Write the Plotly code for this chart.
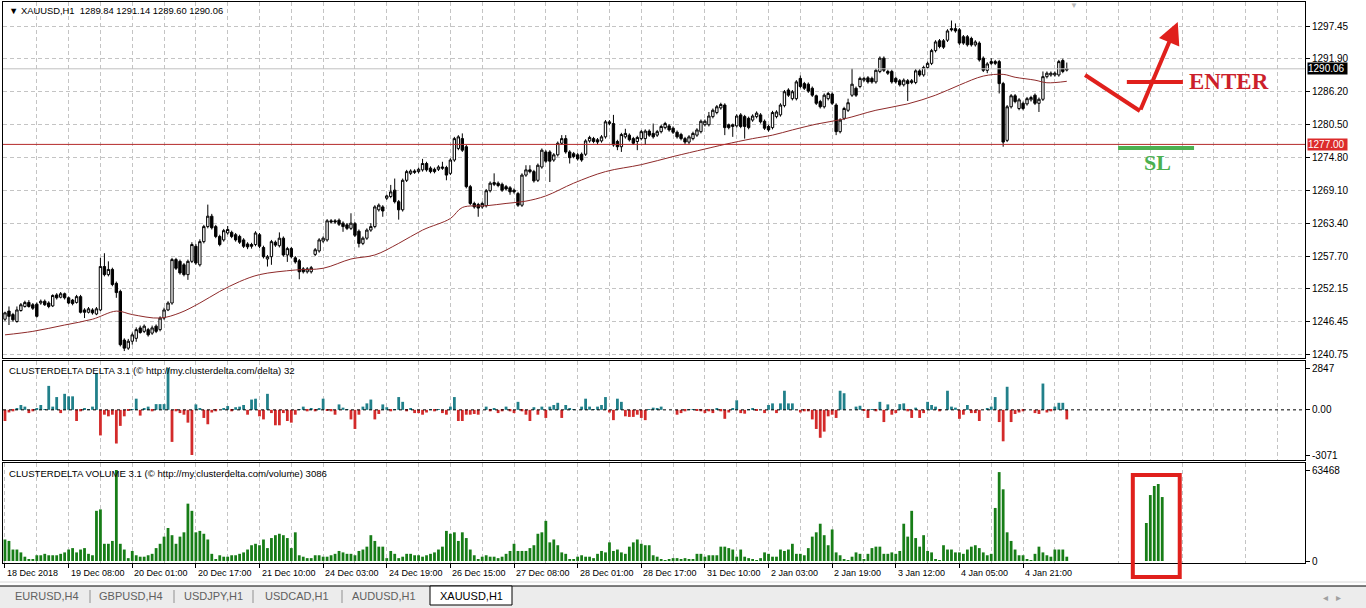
import plotly.graph_objects as go
from plotly.subplots import make_subplots

# header / panel captions
chart_title = "▼ XAUUSD,H1&nbsp;&nbsp;1289.84 1291.14 1289.60 1290.06"
delta_title = "CLUSTERDELTA DELTA 3.1 (© http://my.clusterdelta.com/delta) 32"
volume_title = "CLUSTERDELTA VOLUME 3.1 (© http://my.clusterdelta.com/volume) 3086"

# H1 candles (bar 0 = 18 Dec 2018)
opens = [
    1246.8, 1248.2, 1247.6, 1246.4, 1248.3, 1249.0, 1249.7, 1249.3, 1249.4, 1249.6,
    1249.9, 1249.6, 1249.1, 1251.0, 1250.6, 1251.2, 1250.5, 1250.1, 1249.7, 1250.7,
    1248.4, 1248.0, 1248.4, 1247.7, 1248.4, 1255.9, 1254.5, 1255.4, 1253.0, 1251.6,
    1243.2, 1241.8, 1243.0, 1243.5, 1245.3, 1244.7, 1245.0, 1244.4, 1245.6, 1245.0,
    1247.0, 1248.4, 1249.6, 1257.1, 1256.8, 1256.2, 1254.5, 1256.8, 1259.4, 1256.2,
    1260.2, 1262.8, 1264.6, 1262.8, 1261.1, 1260.5, 1261.7, 1261.8, 1261.4, 1261.1,
    1260.5, 1259.8, 1259.7, 1259.7, 1261.4, 1259.2, 1257.2, 1257.6, 1260.1, 1259.5,
    1260.8, 1257.9, 1259.0, 1257.4, 1256.9, 1255.5, 1255.0, 1255.0, 1258.0, 1258.6,
    1260.3, 1260.5, 1263.8, 1263.8, 1263.9, 1263.4, 1263.1, 1262.5, 1263.3, 1262.0,
    1259.9, 1260.8, 1262.2, 1262.8, 1265.7, 1266.2, 1267.7, 1268.0, 1269.1, 1267.1,
    1265.7, 1270.8, 1272.0, 1272.4, 1272.3, 1272.6, 1273.7, 1272.9, 1272.7, 1272.7,
    1273.1, 1273.0, 1272.0, 1274.3, 1276.3, 1278.0, 1276.6, 1269.7, 1266.8, 1266.6,
    1266.2, 1266.4, 1269.0, 1270.4, 1270.3, 1270.1, 1269.7, 1269.5, 1269.1, 1268.5,
    1266.5, 1271.7, 1272.6, 1272.3, 1270.8, 1273.1, 1275.7, 1275.7, 1274.3, 1275.2,
    1277.2, 1278.0, 1275.7, 1275.4, 1275.2, 1275.3, 1275.3, 1277.6, 1278.0, 1277.8,
    1277.6, 1278.3, 1280.6, 1280.6, 1277.5, 1276.6, 1278.3, 1278.6, 1278.0, 1277.5,
    1278.0, 1278.0, 1279.3, 1278.9, 1278.6, 1279.2, 1279.9, 1280.2, 1279.8, 1279.1,
    1278.7, 1278.0, 1277.4, 1278.0, 1278.6, 1279.2, 1280.4, 1280.4, 1281.8, 1282.5,
    1283.3, 1283.8, 1280.4, 1280.1, 1280.2, 1282.1, 1281.8, 1281.5, 1281.2, 1281.8,
    1282.1, 1281.0, 1280.1, 1279.9, 1281.8, 1282.1, 1283.7, 1286.4, 1284.9, 1284.9,
    1288.4, 1287.5, 1287.4, 1286.7, 1285.4, 1284.4, 1283.5, 1284.9, 1285.7, 1283.8,
    1279.2, 1281.5, 1282.9, 1285.5, 1286.7, 1287.0, 1288.1, 1288.5, 1288.4, 1287.8,
    1289.6, 1291.9, 1289.6, 1289.6, 1288.4, 1288.0, 1287.3, 1288.0, 1287.7, 1287.7,
    1289.7, 1289.0, 1290.3, 1291.0, 1293.2, 1294.9, 1294.9, 1295.0, 1297.0, 1297.0,
    1296.8, 1295.6, 1295.6, 1295.3, 1294.2, 1294.5, 1291.9, 1289.8, 1291.3, 1291.3,
    1291.3, 1287.5, 1277.7, 1283.5, 1285.4, 1283.2, 1284.1, 1284.0, 1284.7, 1285.5,
    1284.1, 1284.8, 1288.7, 1289.0, 1289.0, 1289.0, 1291.5, 1289.84,
]
highs = [
    1248.1, 1249.0, 1247.9, 1249.0, 1249.6, 1250.0, 1250.1, 1249.6, 1249.7, 1250.2,
    1250.2, 1249.9, 1251.1, 1251.3, 1251.5, 1251.4, 1250.7, 1250.3, 1251.0, 1251.0,
    1248.7, 1248.9, 1248.7, 1248.9, 1257.4, 1258.2, 1256.8, 1255.7, 1253.3, 1251.9,
    1243.5, 1243.4, 1244.5, 1245.4, 1245.7, 1245.9, 1245.3, 1245.7, 1245.9, 1247.3,
    1248.8, 1249.9, 1257.4, 1257.4, 1257.1, 1256.5, 1257.1, 1260.1, 1259.8, 1260.6,
    1263.1, 1266.6, 1265.0, 1263.1, 1261.4, 1262.4, 1262.9, 1262.1, 1261.7, 1261.4,
    1260.8, 1260.1, 1260.0, 1262.0, 1261.7, 1259.5, 1257.9, 1260.5, 1260.4, 1261.8,
    1261.1, 1259.3, 1259.3, 1257.7, 1257.2, 1255.8, 1255.8, 1256.0, 1259.1, 1260.8,
    1261.1, 1264.1, 1264.1, 1264.1, 1264.2, 1263.7, 1263.4, 1265.1, 1263.6, 1262.3,
    1261.1, 1262.5, 1263.4, 1266.5, 1266.8, 1266.5, 1268.3, 1270.0, 1271.1, 1267.4,
    1271.1, 1272.6, 1272.7, 1272.7, 1273.0, 1274.5, 1274.0, 1273.2, 1273.0, 1273.4,
    1274.0, 1273.3, 1274.6, 1278.3, 1278.6, 1278.9, 1276.9, 1270.0, 1267.1, 1266.9,
    1267.1, 1269.3, 1270.6, 1272.0, 1270.6, 1270.4, 1270.0, 1269.8, 1269.4, 1268.8,
    1272.0, 1273.4, 1273.4, 1272.6, 1273.7, 1276.3, 1276.0, 1276.0, 1275.5, 1277.5,
    1278.6, 1278.6, 1276.0, 1275.7, 1275.5, 1275.6, 1277.9, 1278.5, 1278.3, 1278.1,
    1278.6, 1281.2, 1281.2, 1282.1, 1277.8, 1279.0, 1279.7, 1278.9, 1278.3, 1278.5,
    1279.5, 1279.6, 1279.6, 1280.6, 1279.5, 1280.4, 1280.9, 1280.5, 1280.1, 1279.4,
    1279.0, 1278.3, 1278.6, 1279.2, 1279.8, 1281.3, 1281.3, 1282.6, 1283.2, 1283.8,
    1284.2, 1284.1, 1280.6, 1280.6, 1282.2, 1282.4, 1282.1, 1281.8, 1282.2, 1282.7,
    1282.4, 1281.3, 1280.4, 1282.8, 1282.9, 1284.1, 1286.4, 1286.7, 1286.4, 1288.1,
    1288.9, 1287.8, 1287.7, 1287.0, 1285.6, 1284.7, 1285.8, 1286.1, 1286.0, 1284.1,
    1281.5, 1283.5, 1284.9, 1290.1, 1287.0, 1288.7, 1288.7, 1288.8, 1288.7, 1290.1,
    1292.2, 1292.2, 1289.9, 1289.9, 1288.7, 1288.3, 1288.4, 1288.3, 1288.3, 1290.0,
    1290.0, 1290.6, 1291.3, 1293.5, 1295.0, 1295.2, 1295.2, 1296.9, 1298.4, 1297.9,
    1297.1, 1295.9, 1295.9, 1295.6, 1295.0, 1294.8, 1292.2, 1291.2, 1291.9, 1291.6,
    1291.6, 1287.8, 1283.8, 1285.7, 1285.7, 1285.0, 1284.4, 1285.2, 1285.4, 1285.8,
    1285.1, 1289.6, 1289.6, 1289.6, 1289.6, 1291.6, 1291.8, 1291.14,
]
lows = [
    1246.5, 1245.8, 1246.4, 1246.2, 1248.1, 1248.8, 1248.8, 1248.4, 1247.1, 1249.3,
    1249.1, 1248.7, 1248.9, 1250.2, 1250.4, 1250.2, 1249.4, 1249.2, 1249.5, 1247.8,
    1247.0, 1247.8, 1247.6, 1247.5, 1248.2, 1254.2, 1254.2, 1252.5, 1250.5, 1242.1,
    1241.3, 1241.5, 1242.4, 1242.9, 1244.3, 1244.4, 1243.8, 1244.1, 1244.4, 1244.7,
    1246.7, 1248.2, 1249.3, 1255.3, 1254.5, 1254.2, 1253.6, 1256.5, 1256.2, 1255.9,
    1259.9, 1262.5, 1262.3, 1260.8, 1259.4, 1260.2, 1261.4, 1260.8, 1260.2, 1259.8,
    1259.1, 1258.9, 1259.0, 1259.4, 1259.1, 1257.3, 1255.9, 1256.2, 1259.3, 1259.2,
    1257.6, 1256.7, 1257.3, 1256.4, 1253.7, 1254.7, 1254.7, 1254.7, 1257.7, 1258.3,
    1260.0, 1260.2, 1263.3, 1263.3, 1262.9, 1261.9, 1262.2, 1262.2, 1261.0, 1259.2,
    1259.6, 1260.5, 1261.9, 1262.5, 1265.4, 1264.5, 1267.4, 1267.7, 1266.8, 1264.0,
    1265.4, 1270.5, 1271.7, 1271.9, 1272.0, 1272.3, 1272.3, 1272.0, 1272.0, 1272.4,
    1272.6, 1270.8, 1271.7, 1274.0, 1276.0, 1275.7, 1269.4, 1266.5, 1265.9, 1264.5,
    1265.9, 1266.1, 1268.7, 1269.8, 1269.6, 1268.8, 1269.0, 1268.3, 1268.5, 1266.2,
    1266.2, 1271.4, 1272.0, 1270.4, 1270.5, 1272.8, 1273.8, 1270.5, 1274.0, 1274.9,
    1276.9, 1275.4, 1273.7, 1274.6, 1274.2, 1274.0, 1275.0, 1277.3, 1277.2, 1277.0,
    1277.3, 1278.0, 1280.3, 1276.6, 1276.0, 1275.7, 1278.0, 1277.5, 1276.9, 1276.0,
    1277.7, 1276.9, 1278.3, 1278.0, 1278.3, 1278.9, 1279.6, 1279.2, 1278.8, 1278.0,
    1277.7, 1277.0, 1277.0, 1277.7, 1278.3, 1278.9, 1280.1, 1280.1, 1281.5, 1282.2,
    1283.0, 1278.6, 1279.6, 1278.3, 1279.9, 1279.8, 1278.0, 1279.6, 1280.9, 1281.5,
    1280.6, 1279.5, 1279.2, 1279.6, 1281.5, 1281.8, 1283.4, 1285.2, 1284.6, 1284.6,
    1286.7, 1286.4, 1285.9, 1285.2, 1283.8, 1283.2, 1283.2, 1284.6, 1283.8, 1278.6,
    1278.9, 1281.2, 1282.6, 1285.2, 1285.2, 1286.7, 1287.8, 1287.5, 1287.5, 1287.5,
    1289.3, 1289.5, 1289.0, 1287.5, 1287.5, 1287.0, 1287.0, 1284.5, 1287.4, 1287.4,
    1288.7, 1288.7, 1290.0, 1290.7, 1292.9, 1293.6, 1293.5, 1294.7, 1296.5, 1296.3,
    1294.2, 1294.2, 1293.9, 1293.9, 1293.9, 1291.3, 1289.5, 1289.3, 1290.7, 1290.7,
    1285.8, 1276.6, 1277.4, 1283.2, 1284.1, 1282.9, 1282.9, 1283.7, 1284.4, 1283.8,
    1282.6, 1284.5, 1288.4, 1288.7, 1288.7, 1288.7, 1289.3, 1289.60,
]
closes = [
    1247.9, 1247.3, 1246.7, 1248.4, 1249.3, 1249.7, 1249.0, 1248.7, 1247.3, 1249.9,
    1249.3, 1249.0, 1250.9, 1250.5, 1251.2, 1250.5, 1249.6, 1249.5, 1250.7, 1248.0,
    1248.0, 1248.6, 1247.9, 1248.6, 1255.9, 1254.5, 1255.4, 1252.8, 1251.4, 1242.4,
    1241.8, 1243.0, 1244.1, 1245.0, 1244.5, 1245.6, 1244.1, 1245.3, 1244.7, 1247.0,
    1248.4, 1249.6, 1257.1, 1255.6, 1254.8, 1254.5, 1256.8, 1259.7, 1256.5, 1260.2,
    1262.8, 1264.6, 1262.6, 1261.1, 1259.7, 1262.1, 1262.3, 1261.1, 1260.5, 1260.1,
    1259.4, 1259.3, 1259.4, 1261.7, 1259.4, 1257.6, 1257.6, 1260.2, 1259.6, 1260.8,
    1257.9, 1259.0, 1257.6, 1256.7, 1255.0, 1255.0, 1255.5, 1255.7, 1258.8, 1260.5,
    1260.8, 1263.8, 1263.6, 1263.6, 1263.2, 1262.8, 1262.5, 1263.4, 1261.3, 1259.9,
    1260.8, 1262.2, 1262.8, 1266.2, 1266.5, 1265.5, 1268.1, 1268.8, 1267.1, 1265.7,
    1270.8, 1272.3, 1272.4, 1272.2, 1272.7, 1273.7, 1272.6, 1272.3, 1272.3, 1273.1,
    1272.9, 1271.7, 1274.3, 1278.0, 1278.3, 1276.0, 1269.7, 1266.8, 1266.2, 1266.0,
    1266.8, 1269.0, 1270.3, 1270.1, 1269.9, 1269.1, 1269.3, 1268.8, 1268.8, 1266.5,
    1271.7, 1272.6, 1272.3, 1270.7, 1273.4, 1276.0, 1274.1, 1274.1, 1275.2, 1277.2,
    1278.0, 1275.7, 1274.7, 1274.9, 1274.5, 1274.3, 1277.6, 1278.2, 1277.5, 1277.4,
    1278.3, 1280.9, 1280.9, 1276.9, 1276.6, 1278.7, 1278.9, 1277.8, 1277.2, 1278.2,
    1279.2, 1279.3, 1278.6, 1278.3, 1279.2, 1280.1, 1280.6, 1279.5, 1279.1, 1278.3,
    1278.0, 1277.4, 1278.3, 1278.9, 1279.5, 1281.0, 1281.0, 1281.9, 1282.9, 1283.5,
    1283.9, 1279.9, 1279.9, 1280.4, 1281.9, 1280.1, 1280.1, 1279.9, 1281.9, 1282.4,
    1280.9, 1279.8, 1279.5, 1282.5, 1282.6, 1283.8, 1286.1, 1285.5, 1286.1, 1287.8,
    1287.0, 1286.7, 1286.2, 1285.5, 1284.1, 1283.5, 1285.5, 1285.8, 1284.1, 1279.2,
    1281.2, 1283.2, 1284.2, 1287.4, 1285.5, 1288.4, 1288.4, 1287.8, 1287.8, 1289.8,
    1291.9, 1289.8, 1289.3, 1287.8, 1287.8, 1287.3, 1288.1, 1287.5, 1288.0, 1289.7,
    1289.0, 1290.3, 1291.0, 1293.2, 1294.7, 1293.9, 1293.8, 1296.6, 1296.8, 1296.6,
    1294.5, 1294.5, 1294.2, 1294.2, 1294.7, 1291.6, 1289.8, 1290.9, 1291.0, 1291.0,
    1287.5, 1277.4, 1283.5, 1285.4, 1284.4, 1284.7, 1283.2, 1284.9, 1285.1, 1284.1,
    1284.8, 1288.7, 1289.3, 1289.3, 1289.3, 1291.3, 1289.6, 1290.06,
]

# moving average, sampled along its path
ma_bars = [0, 7, 15, 22, 28, 32, 39, 44, 49, 54, 59, 64, 73, 80, 87, 93, 99, 105,
           112, 115, 121, 126, 131, 136, 143, 151, 160, 168, 176, 181, 188, 193,
           198, 204, 211, 219, 227, 234, 240, 246, 251, 254, 259, 262, 267]
ma_values = [1244.1, 1244.7, 1245.8, 1246.8, 1248.2, 1247.6, 1247.0, 1247.9, 1249.6,
             1251.6, 1253.3, 1254.5, 1255.3, 1255.6, 1257.2, 1257.9, 1259.9, 1262.2,
             1264.2, 1266.1, 1266.4, 1266.8, 1267.2, 1268.1, 1270.3, 1272.3, 1273.5,
             1274.9, 1276.2, 1277.0, 1278.0, 1278.6, 1279.5, 1280.5, 1281.4, 1282.9,
             1284.0, 1285.5, 1287.25, 1288.8, 1289.1, 1288.6, 1288.1, 1287.65, 1287.9]

# clusterdelta delta histogram
delta = [
    -760, -175, -100, 100, 330, 220, -220, -100, 100, 330,
    50, 1630, 220, 870, -220, 1090, 920, 920, -760, -100,
    100, 50, 220, 2500, -1740, -330, -440, -330, -2290, -1090,
    -440, -30, 50, 760, -390, 100, 220, -100, 390, 390,
    390, 2847, -2180, -100, -220, -330, -870, -3071, 370, 100,
    -550, -980, -180, -100, 0, 100, 260, -100, 180, 220,
    330, -330, 700, 760, -440, -650, 1090, -220, -1050, -1050,
    -220, -760, -870, -330, 50, 220, -100, 90, -100, 100,
    760, -60, -100, -330, 370, 150, 50, -650, -1300, -330,
    220, 440, 700, -650, -280, 370, 180, -100, 50, 870,
    545, -100, 100, -220, -220, -330, -180, 50, -100, 50,
    -220, -330, 220, 870, -760, -760, -330, -330, -280, -330,
    0, 220, -100, 100, -220, -100, 220, -100, -220, 545,
    -100, -330, -760, 180, -330, 220, -550, 220, 330, 480,
    -550, 330, 100, 50, 0, 220, 760, 220, 50, 220,
    330, 870, -180, -700, 760, 545, -440, -480, -480, -330,
    -550, -700, 50, 150, 100, 220, 0, 0, 0, -330,
    -220, -100, 50, 50, -60, -100, -220, -100, -220, 100,
    -100, -610, -180, 100, 650, -220, -260, 50, 100, -60,
    0, -220, 330, 440, -220, 440, 1300, 440, 440, 0,
    -180, -100, -100, -650, -1300, -1900, -1480, -440, -330, -550,
    1300, 1130, 0, 0, 220, 280, -60, -550, 50, -100,
    545, -830, 370, -330, -220, 390, 440, -100, -550, 150,
    -550, -220, 545, 330, 220, -100, 0, 1300, 220, 150,
    -610, -330, 330, -220, -220, -760, 0, 100, 220, 870,
    -830, -2140, 1570, -830, -280, -180, -100, 0, 0, -220,
    -280, 1790, -180, -100, 220, 480, 480, -650,
]

# clusterdelta volume histogram
volume = [
    15000, 14000, 8000, 8000, 6000, 3000, 1000, 1000, 4000, 4000,
    5000, 4000, 4000, 4000, 5000, 6000, 8000, 9000, 6000, 8000,
    9000, 5000, 4000, 35000, 36000, 12000, 12000, 14000, 63468, 12000,
    8000, 2000, 7000, 4000, 3000, 3000, 4000, 5000, 9000, 12000,
    17000, 23000, 18000, 12000, 17000, 20000, 40000, 35000, 20000, 21000,
    19000, 15000, 5000, 1000, 4000, 3000, 3000, 4000, 4000, 5000,
    6000, 8000, 11000, 12000, 11000, 15000, 9000, 16000, 18000, 19000,
    18000, 16000, 9000, 20000, 4000, 3000, 2000, 2000, 4000, 4000,
    3000, 3000, 4000, 5000, 7000, 6000, 5000, 5000, 4000, 7000,
    8000, 10000, 18000, 14000, 10000, 10000, 2000, 7000, 5000, 2000,
    3000, 5000, 5000, 4000, 4000, 3000, 4000, 5000, 6000, 8000,
    10000, 21000, 19000, 20000, 14000, 20000, 16000, 8000, 4000, 1000,
    3000, 4000, 3000, 3000, 2000, 3000, 5000, 7000, 12000, 7000,
    7000, 7000, 9000, 11000, 19000, 20000, 28000, 13000, 15000, 11000,
    6000, 5000, 1000, 1000, 3000, 4000, 3000, 3000, 2000, 5000,
    7000, 6000, 13000, 7000, 8000, 6000, 5000, 10000, 13000, 15000,
    12000, 11000, 11000, 4000, 3000, 1000, 500, 1000, 2000, 2000,
    1000, 2000, 1000, 1000, 5000, 5000, 3000, 4000, 4000, 4000,
    10000, 10000, 9000, 8000, 3000, 8000, 3000, 2000, 1000, 500,
    2000, 6000, 5000, 3000, 3000, 8000, 7000, 8000, 12000, 5000,
    5000, 4000, 9000, 17000, 20000, 26000, 18000, 11000, 22000, 6000,
    4000, 1000, 500, 3000, 6000, 5000, 1000, 5000, 9000, 10000,
    10000, 5000, 5000, 6000, 5000, 7000, 26000, 17000, 35000, 16000,
    10000, 18000, 7000, 6000, 1000, 500, 11000, 8000, 8000, 6000,
    6000, 5000, 8000, 10000, 11000, 9000, 6000, 4000, 5000, 37000,
    62000, 50000, 20000, 14000, 8000, 4000, 4000, 1000, 500, 5000,
    10000, 6000, 4000, 3000, 8000, 8000, 8000, 3000,
]

# hand-drawn volume projection inside the red box (future bars)
sketch_bars = [287, 288, 289, 290, 291]
sketch_volume = [26500, 46000, 52300, 53700, 44600]

# date labels, one every 16 bars
date_labels = ["18 Dec 2018", "19 Dec 08:00", "20 Dec 01:00", "20 Dec 17:00",
               "21 Dec 10:00", "24 Dec 03:00", "24 Dec 19:00", "26 Dec 15:00",
               "27 Dec 08:00", "28 Dec 01:00", "28 Dec 17:00", "31 Dec 10:00",
               "2 Jan 03:00", "2 Jan 19:00", "3 Jan 12:00", "4 Jan 05:00", "4 Jan 21:00"]
price_ticks = [1297.45, 1291.90, 1286.20, 1280.50, 1274.80, 1269.10,
               1263.40, 1257.70, 1252.15, 1246.45, 1240.75]
delta_ticks = [2847, 0, -3071]
delta_tick_text = ["2847", "0.00", "-3071"]
volume_ticks = [0, 63468]
last_price = 1290.06
level_price = 1277.00
tabs = ["EURUSD,H4", "GBPUSD,H4", "USDJPY,H1", "USDCAD,H1", "AUDUSD,H1", "XAUUSD,H1"]

# pixel helpers for the layout (plot area 3..1305 x 2..563)
def px_x(x):
    return (x - 3) / 1302.0

def px_y(y):
    return (563 - y) / 561.0

GRID = '#c4c4c4'
FONT = 'Liberation Sans, Arial, sans-serif'
SERIF = 'Liberation Serif, Times New Roman, serif'
X_RANGE = [-0.5, 326.9]

fig = make_subplots(rows=3, cols=1)

bars = list(range(len(closes)))
fig.add_trace(go.Candlestick(
    x=bars, open=opens, high=highs, low=lows, close=closes,
    increasing=dict(line=dict(color='black', width=1), fillcolor='white'),
    decreasing=dict(line=dict(color='black', width=1), fillcolor='black'),
    whiskerwidth=0, hoverinfo='skip'), row=1, col=1)

fig.add_trace(go.Scatter(x=ma_bars, y=ma_values, mode='lines',
                         line=dict(color='#8e2a2a', width=1, shape='spline'),
                         hoverinfo='skip'), row=1, col=1)

fig.add_trace(go.Bar(x=list(range(len(delta))), y=delta, width=0.7,
                     marker=dict(color=['#21808a' if v >= 0 else '#d32a2a' for v in delta],
                                 line=dict(width=0)),
                     hoverinfo='skip'), row=2, col=1)

fig.add_trace(go.Bar(x=list(range(len(volume))), y=volume, width=0.7,
                     marker=dict(color='#177d17', line=dict(width=0)),
                     hoverinfo='skip'), row=3, col=1)

fig.add_trace(go.Bar(x=sketch_bars, y=sketch_volume, width=0.7,
                     marker=dict(color='#177d17', line=dict(width=0)),
                     hoverinfo='skip'), row=3, col=1)

label_bars = [16 * k for k in range(len(date_labels))]
grid_bars = list(range(8, 330, 8))

axis_common = dict(showline=True, mirror=True, linecolor='black', linewidth=1,
                   range=X_RANGE, zeroline=False, fixedrange=True)
fig.update_xaxes(axis_common)
fig.update_xaxes(tickvals=grid_bars, showticklabels=False, ticks='', showgrid=True,
                 gridcolor=GRID, griddash='4px,3px', rangeslider_visible=False,
                 row=1, col=1)
fig.update_xaxes(tickvals=grid_bars, showticklabels=False, ticks='', showgrid=True,
                 gridcolor=GRID, griddash='4px,3px', row=2, col=1)
fig.update_xaxes(tickvals=label_bars, showticklabels=False, ticks='outside', ticklen=4,
                 tickcolor='black', showgrid=True, gridcolor=GRID, griddash='4px,3px',
                 minor=dict(tickvals=[b for b in grid_bars if b % 16], showgrid=True,
                            gridcolor=GRID, griddash='4px,3px', ticks=''),
                 row=3, col=1)

fig.update_yaxes(side='right', showline=True, mirror=True, linecolor='black', linewidth=1,
                 ticks='outside', ticklen=4, tickcolor='black', zeroline=False,
                 fixedrange=True, tickfont=dict(size=10))
fig.update_yaxes(range=[1240.1, 1301.6], tickvals=price_ticks,
                 ticktext=['%.2f' % p for p in price_ticks], showgrid=True,
                 gridcolor=GRID, griddash='4px,3px', domain=[px_y(358), 1], row=1, col=1)
fig.update_yaxes(range=[-3411, 3323], tickvals=delta_ticks, ticktext=delta_tick_text,
                 showgrid=False, domain=[px_y(460), px_y(361)], row=2, col=1)
fig.update_yaxes(range=[-1395, 68350], tickvals=volume_ticks,
                 ticktext=[str(v) for v in volume_ticks], showgrid=False,
                 domain=[0, px_y(463)], row=3, col=1)

shapes = [
    # bottom tab bar
    dict(type='rect', xref='paper', yref='paper', x0=px_x(0), x1=px_x(1366),
         y0=px_y(609), y1=px_y(586), fillcolor='#ececec', line=dict(width=0)),
    dict(type='line', xref='paper', yref='paper', x0=px_x(0), x1=px_x(1366),
         y0=px_y(586), y1=px_y(586), line=dict(color='black', width=1)),
    dict(type='line', xref='paper', yref='paper', x0=px_x(0), x1=px_x(1366),
         y0=px_y(582), y1=px_y(582), line=dict(color='#d8d8d8', width=1)),
    dict(type='rect', xref='paper', yref='paper', x0=px_x(430), x1=px_x(512),
         y0=px_y(605), y1=px_y(586), fillcolor='white', line=dict(color='black', width=1)),
    # support line and bid line
    dict(type='line', xref='paper', x0=0, x1=1, yref='y', y0=level_price, y1=level_price,
         line=dict(color='#b52a2a', width=1)),
    dict(type='line', xref='paper', x0=0, x1=1, yref='y', y0=last_price, y1=last_price,
         line=dict(color='#c0c0c0', width=1)),
    # delta zero line
    dict(type='line', xref='paper', x0=0, x1=1, yref='y2', y0=0, y1=0,
         line=dict(color='black', width=1, dash='dot')),
    # hand drawings
    dict(type='line', xref='x', yref='y', x0=271.6, y0=1288.99, x1=285.4, y1=1282.77,
         line=dict(color='#e0201c', width=4)),
    dict(type='line', xref='x', yref='y', x0=282.1, y0=1287.78, x1=296.2, y1=1287.78,
         line=dict(color='#e0201c', width=4)),
    dict(type='line', xref='x', yref='y', x0=279.9, y0=1276.38, x1=299.0, y1=1276.38,
         line=dict(color='#4cb050', width=4)),
    dict(type='rect', xref='x3', x0=283.6, x1=295.4, yref='paper', y0=px_y(577), y1=px_y(475),
         line=dict(color='#e0201c', width=4)),
]
for sx in [90, 174, 253, 342]:
    shapes.append(dict(type='line', xref='paper', yref='paper', x0=px_x(sx), x1=px_x(sx),
                       y0=px_y(603), y1=px_y(590), line=dict(color='#909090', width=1)))

annotations = [
    dict(xref='paper', yref='paper', x=px_x(7), y=px_y(10), xanchor='left', yanchor='middle',
         text=chart_title, showarrow=False, font=dict(size=9.4)),
    dict(xref='paper', yref='paper', x=px_x(7), y=px_y(370), xanchor='left', yanchor='middle',
         text=delta_title, showarrow=False, font=dict(size=9.6)),
    dict(xref='paper', yref='paper', x=px_x(7), y=px_y(473), xanchor='left', yanchor='middle',
         text=volume_title, showarrow=False, font=dict(size=9.6)),
    dict(xref='paper', yref='paper', x=px_x(1080), y=px_y(5), yanchor='middle', text='▼',
         showarrow=False, font=dict(size=8, color='#b8b8b8')),
    dict(xref='paper', x=1, xanchor='left', xshift=2, yref='y', y=last_price,
         yanchor='middle', text='%.2f&nbsp;' % last_price, showarrow=False, bgcolor='black',
         font=dict(size=10, color='white'), borderpad=0),
    dict(xref='paper', x=1, xanchor='left', xshift=2, yref='y', y=level_price,
         yanchor='middle', text='%.2f&nbsp;' % level_price, showarrow=False, bgcolor='#dc2b2b',
         font=dict(size=10, color='white'), borderpad=0),
    # drawn arrow and labels
    dict(xref='x', yref='y', x=294.9, y=1298.14, axref='x', ayref='y', ax=285.4, ay=1282.77,
         text='', showarrow=True, arrowhead=2, arrowsize=1.1, arrowwidth=4,
         arrowcolor='#e0201c', standoff=0),
    dict(xref='x', yref='y', x=297.2, y=1287.95, xanchor='left', yanchor='middle',
         text='<b>ENTER</b>', showarrow=False,
         font=dict(family=SERIF, size=23, color='#cc1f2b')),
    dict(xref='x', yref='y', x=289.9, y=1273.79, xanchor='center', yanchor='middle',
         text='<b>SL</b>', showarrow=False,
         font=dict(family=SERIF, size=22, color='#4cb050')),
    dict(xref='paper', yref='paper', x=px_x(1343), y=px_y(597), yanchor='middle',
         text='◂&nbsp;&nbsp;&nbsp;▸', showarrow=False, font=dict(size=10, color='#a0a0a0')),
]
for bar, label in zip(label_bars, date_labels):
    annotations.append(dict(xref='x3', yref='paper', x=bar, y=px_y(573), xanchor='left',
                            yanchor='middle', xshift=0, text=label, showarrow=False,
                            font=dict(size=9)))
tab_centers = [47, 131, 213, 297, 384, 471]
for cx, name in zip(tab_centers, tabs):
    annotations.append(dict(xref='paper', yref='paper', x=px_x(cx), y=px_y(596),
                            xanchor='center', yanchor='middle', text=name, showarrow=False,
                            font=dict(size=11, color='black' if name == 'XAUUSD,H1' else '#606060')))

fig.update_layout(
    width=1366, height=608,
    margin=dict(l=3, r=61, t=2, b=45),
    paper_bgcolor='white', plot_bgcolor='white',
    showlegend=False, hovermode=False,
    font=dict(family=FONT, size=10, color='black'),
    shapes=shapes, annotations=annotations,
    barmode='overlay', boxgap=0.15,
)

fig.write_html("out.html", config={'displayModeBar': False},
               post_script="document.body.style.margin='0';")
